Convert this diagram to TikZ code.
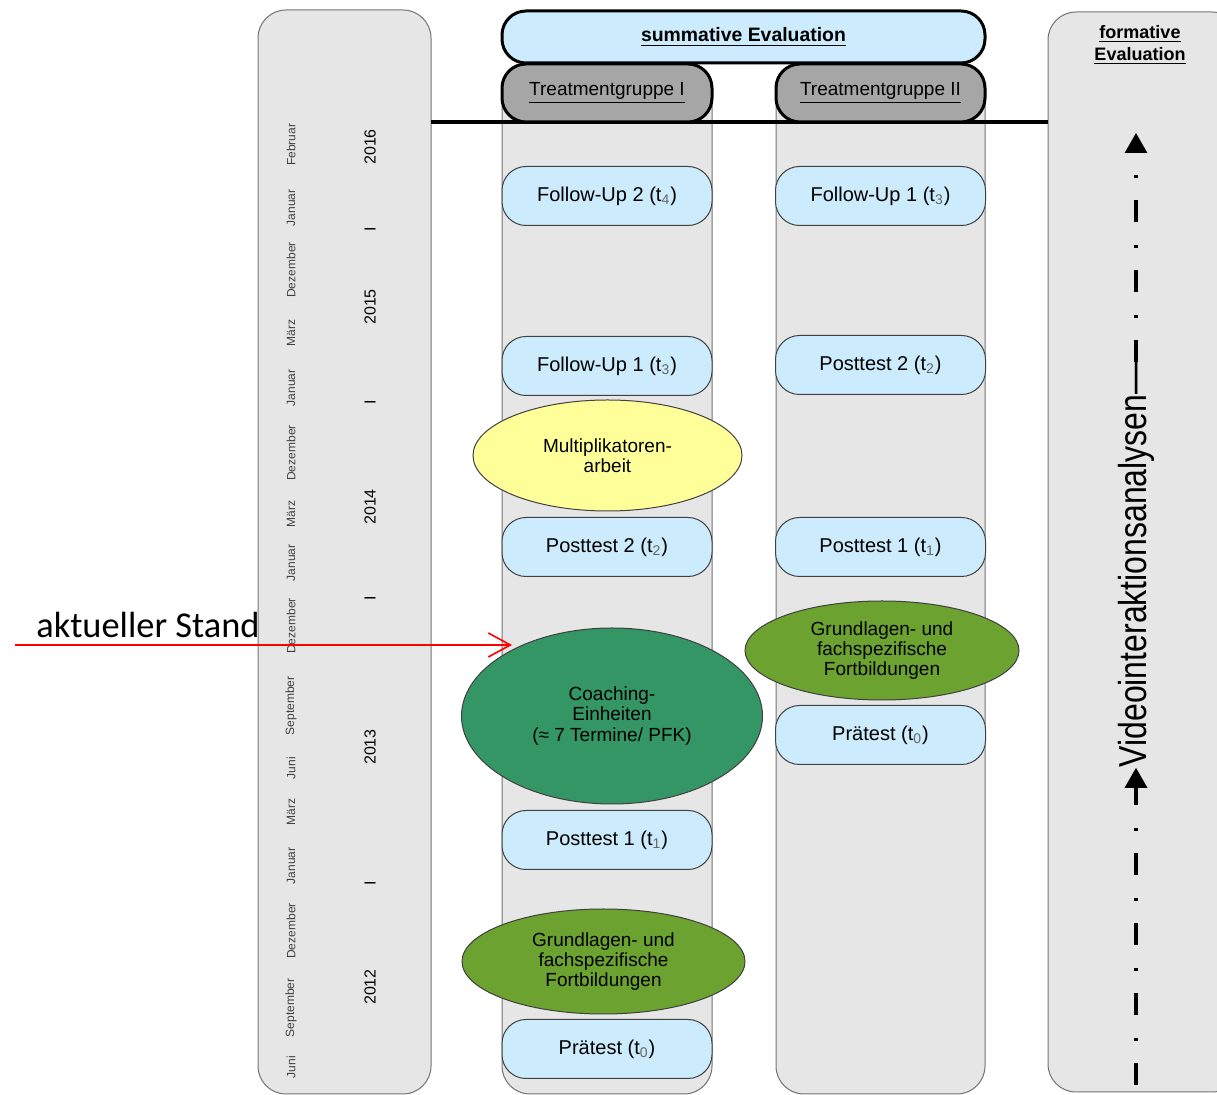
\documentclass[tikz,border=0pt]{standalone}
\usepackage{fontspec}
\setmainfont{Liberation Sans}
\newfontfamily\standfont{Carlito}
\newfontfamily\narrowfont[FakeStretch=0.82]{Liberation Sans}
\usetikzlibrary{shapes.geometric,arrows.meta,positioning}

\definecolor{colgray}{RGB}{230,230,230}
\definecolor{testblue}{RGB}{204,235,252}
\definecolor{headgray}{RGB}{166,166,166}
\definecolor{multiyellow}{RGB}{255,255,153}
\definecolor{coachgreen}{RGB}{51,150,100}
\definecolor{basegreen}{RGB}{108,162,48}

\newcommand{\tidx}[1]{t\textsubscript{\color{black!60}#1}}

\tikzset{
  column/.style={draw=black!55, line width=0.5pt, fill=colgray, rounded corners=14pt},
  testbox/.style={draw=black!75, line width=0.5pt, fill=testblue, rounded corners=12pt,
    minimum width=105pt, minimum height=29.5pt, inner sep=0pt, font=\fontsize{10}{12}\selectfont},
  headbox/.style={draw=black, line width=1.5pt, rounded corners=12pt, inner sep=0pt},
  oval/.style={ellipse, draw=black!75, line width=0.5pt, inner sep=0pt, align=center,
    font=\fontsize{9.5}{10.2}\selectfont},
  month/.style={rotate=90, text=black!75, font=\fontsize{6}{7}\selectfont, inner sep=0pt},
  year/.style={rotate=90, font=\fontsize{8}{9}\selectfont, inner sep=0pt},
  vline/.style={line width=1.6pt, dash pattern=on 11pt off 11pt on 1.5pt off 11.5pt},
}

\begin{document}
\begin{tikzpicture}[x=0.5pt, y=-0.5pt]
\useasboundingbox (0,0) rectangle (1217,1095);

% columns
\draw[column] (258,10) rectangle (431,1094);
\draw[column] (502,64) rectangle (712,1094);
\draw[column] (776,64) rectangle (985,1094);
\draw[column] (1048,12) rectangle (1240,1092);

\coordinate (lineL) at (431,122);
\coordinate (lineR) at (1048,122);
\draw[line width=2pt] (lineL) -- (lineR);

% headers
\node[headbox, fill=testblue, minimum width=241.5pt, minimum height=26pt,
  font=\fontsize{9.7}{11}\bfseries] (summ) at (743.5,37) {\underline{summative Evaluation}};
\node[headbox, fill=headgray, minimum width=105pt, minimum height=29pt,
  font=\fontsize{9.5}{11}\selectfont] (tg1) at (607,93) {\underline{Treatmentgruppe I}};
\node[headbox, fill=headgray, minimum width=104.5pt, minimum height=29pt,
  font=\fontsize{9.5}{11}\selectfont] (tg2) at (880.5,93) {\underline{Treatmentgruppe II}};
\node[align=center, font=\fontsize{9}{11}\bfseries] (form) at (1140,45)
  {\underline{formative}\\\underline{Evaluation}};

% timeline
\foreach \y/\name/\disp in {145/feb16/Februar, 208/jan16/Januar, 270/dez15/Dezember,
  333/mar15/März, 388/jan15/Januar, 453/dez14/Dezember, 514/mar14/März, 563/jan14/Januar,
  626/dez13/Dezember, 706/sep13/September, 768/jun13/Juni, 812/mar13/März,
  866/jan13/Januar, 931/dez12/Dezember, 1008/sep12/September, 1067/jun12/Juni}
\node[month] (\name) at (291,\y) {\disp};

\foreach \y/\name/\disp in {147/y16/2016, 229/s16/I, 307/y15/2015, 402/s15/I,
  507/y14/2014, 598/s14/I, 747/y13/2013, 883/s13/I, 987/y12/2012}
\node[year] (\name) at (370,\y) {\disp};

% Treatmentgruppe I
\node[testbox] (fu2a) at (607,196) {Follow-Up 2 (\tidx{4})};
\node[testbox] (fu1a) at (607,366) {Follow-Up 1 (\tidx{3})};
\node[oval, fill=multiyellow, minimum width=134.5pt, minimum height=55.5pt] (multi)
  at (607.5,455.5) {Multiplikatoren-\\arbeit};
\node[testbox] (pt2a) at (607,547) {Posttest 2 (\tidx{2})};
\node[oval, fill=coachgreen, minimum width=150.5pt, minimum height=88pt] (coach)
  at (612,716) {Coaching-\\Einheiten\\(≈ 7 Termine/ PFK)};
\node[testbox] (pt1a) at (607,840) {Posttest 1 (\tidx{1})};
\node[oval, fill=basegreen, minimum width=141.5pt, minimum height=52.5pt] (basea)
  at (603.5,961.5) {Grundlagen- und\\fachspezifische\\Fortbildungen};
\node[testbox] (prea) at (607,1049) {Prätest (\tidx{0})};

% Treatmentgruppe II
\node[testbox] (fu1b) at (880.5,196) {Follow-Up 1 (\tidx{3})};
\node[testbox] (pt2b) at (880.5,365) {Posttest 2 (\tidx{2})};
\node[testbox] (pt1b) at (880.5,547) {Posttest 1 (\tidx{1})};
\node[oval, fill=basegreen, minimum width=137pt, minimum height=49.5pt] (baseb)
  at (882,650.5) {Grundlagen- und\\fachspezifische\\Fortbildungen};
\node[testbox] (preb) at (880.5,735) {Prätest (\tidx{0})};

% formative Evaluation
\coordinate (vbot) at (1136,1085);
\coordinate (vtop) at (1136,133);
\node[rotate=90, inner sep=0pt, font=\narrowfont\fontsize{19.5}{20}\selectfont] (video)
  at (1136,565) {Videointeraktionsanalysen—};
\draw[vline, -{Triangle[length=10pt,width=11pt]}] (vbot) -- (video.west);
\draw[vline, -{Triangle[length=10pt,width=11pt]}] (video.east) -- (vtop);

% aktueller Stand
\node[font=\standfont\fontsize{18.2}{20}\selectfont, inner sep=0pt] (stand) at (148,625) {aktueller Stand};
\coordinate (standL) at (15,645);
\coordinate (standR) at (512,645);
\draw[red, line width=1pt, -{Straight Barb[length=11pt,width=12pt,line width=0.8pt]}] (standL) -- (standR);

\end{tikzpicture}
\end{document}
